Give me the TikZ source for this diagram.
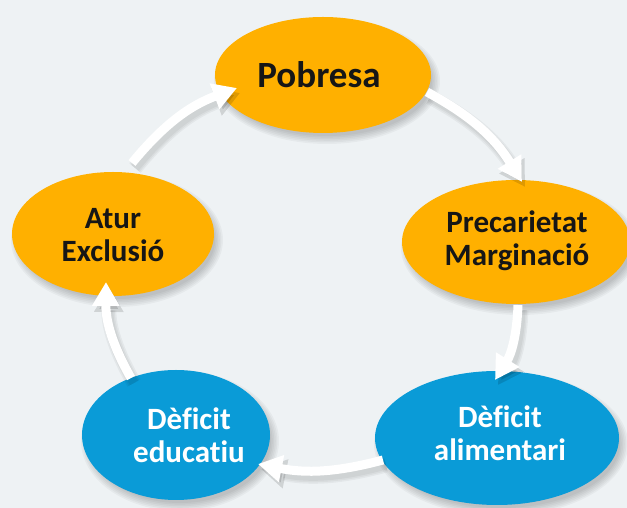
\documentclass[tikz,border=0pt]{standalone}
\usepackage{fontspec}
\setmainfont{Carlito}[Ligatures=NoCommon]
\usetikzlibrary{arrows.meta,shapes.geometric}
\definecolor{bg}{HTML}{EEF2F4}
\definecolor{orng}{HTML}{FFB000}
\definecolor{blu}{HTML}{0A9BD7}
\definecolor{ink}{HTML}{161616}
\begin{document}
\begin{tikzpicture}[x=1pt,y=1pt,
  blob/.style={ellipse, inner sep=0pt, draw=none},
  orangeblob/.style={blob, fill=orng},
  blueblob/.style={blob, fill=blu},
  lbl/.style={align=center, font=\fontsize{31}{33}\selectfont\bfseries, inner sep=0pt, text=ink},
  cycarrow/.style={line width=9pt, white, -{Triangle[width=26pt,length=24pt]}},
  cycshade/.style={line width=#1, black, opacity=0.045, -{Triangle[width=28pt,length=25pt]}, transform canvas={shift={(3pt,-5pt)}}}
]
\useasboundingbox (0,0) rectangle (627,508);
\fill[bg] (0,0) rectangle (627,508);

% soft shadows of the ellipses
\foreach \cx/\cy/\rx/\ry in {323/433/108/58, 516/266/114/62, 113/274/101/62, 176/73/94/65, 497/70/122/67}{
  \foreach \k in {0,...,5}{
    \fill[black, opacity=0.035] (\cx+4,\cy-6) ellipse [x radius=\rx-3+1.6*\k, y radius=\ry-3+1.6*\k];
  }
}

% ellipses
\node[orangeblob, minimum width=216pt, minimum height=116pt] (pob) at (323,433) {};
\node[orangeblob, minimum width=228pt, minimum height=124pt] (pre) at (516,266) {};
\node[orangeblob, minimum width=202pt, minimum height=124pt] (atu) at (113,274) {};
\node[blueblob, minimum width=188pt, minimum height=130pt] (edu) at (176,73) {};
\node[blueblob, minimum width=244pt, minimum height=134pt] (ali) at (497,70) {};

% labels
\node[lbl, font=\fontsize{37}{40}\selectfont\bfseries] (pobT) at (319,433) {Pobresa};
\node[lbl] (preT) at (517,267) {Precarietat\\Marginació};
\node[lbl] (atuT) at (113,273) {Atur\\Exclusió};
\node[lbl, text=white] (eduT) at (189,73) {Dèficit\\educatiu};
\node[lbl, text=white] (aliT) at (500,75) {Dèficit\\alimentari};

% arrow end points
\coordinate (a1s) at (132,345); \coordinate (a1e) at (237,420);
\coordinate (a2s) at (427,416); \coordinate (a2e) at (522,326);
\coordinate (a3s) at (518,203); \coordinate (a3e) at (495,128);
\coordinate (a4s) at (383,48);  \coordinate (a4e) at (258,44);
\coordinate (a5s) at (131,130); \coordinate (a5e) at (106,226);

% arrow shadows
\foreach \w in {9pt,12pt,15pt}{
  \draw[cycshade=\w] (a1s) to[bend left=15] (a1e);
  \draw[cycshade=\w] (a2s) to[bend left=15] (a2e);
  \draw[cycshade=\w] (a3s) to[bend left=15] (a3e);
  \draw[cycshade=\w] (a4s) to[bend left=13] (a4e);
  \draw[cycshade=\w] (a5s) to[bend left=15] (a5e);
}

% arrows
\draw[cycarrow] (a1s) to[bend left=15] (a1e);
\draw[cycarrow] (a2s) to[bend left=15] (a2e);
\draw[cycarrow] (a3s) to[bend left=15] (a3e);
\draw[cycarrow] (a4s) to[bend left=13] (a4e);
\draw[cycarrow] (a5s) to[bend left=15] (a5e);
\end{tikzpicture}
\end{document}
